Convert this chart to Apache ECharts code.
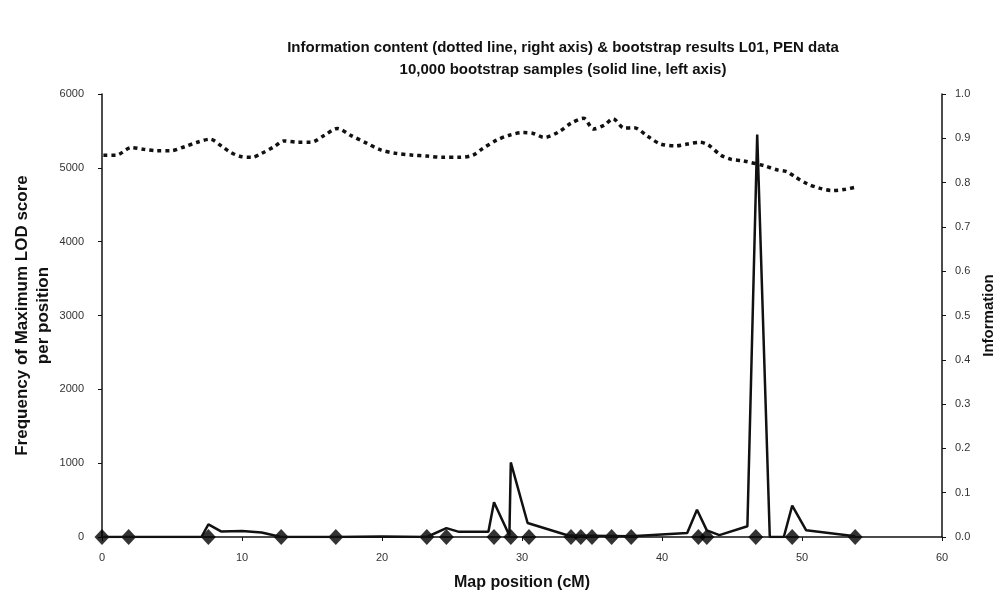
<!DOCTYPE html>
<html>
<head>
<meta charset="utf-8">
<script src="https://cdn.jsdelivr.net/npm/echarts@6/dist/echarts.min.js"></script>
<style>
  html, body { margin: 0; padding: 0; background: #fff; }
  #chart { width: 1006px; height: 593px; }
</style>
</head>
<body>
<div id="chart"></div>
<script>
// bootstrap frequency (solid line, left axis): [cM, count]
const bootstrapPoints = [
  [0, 0], [7.1, 0], [7.6, 170], [8.5, 75], [10, 80], [11.4, 60], [12.8, 0],
  [16.7, 0], [20, 8], [23.2, 0], [24.6, 120], [25.5, 70], [27.6, 70],
  [28.0, 470], [29.1, 20], [29.2, 1010], [30.4, 190], [33.3, 20], [37.8, 10],
  [41.8, 55], [42.5, 370], [43.2, 90], [44.1, 25], [46.1, 145], [46.8, 5450],
  [47.7, 0], [48.7, 0], [49.3, 425], [50.3, 90], [53.8, 10]
];

// marker positions (cM) on the baseline
const markerPositions = [0, 1.9, 7.6, 12.8, 16.7, 23.2, 24.6, 28.0, 29.2, 30.5,
  33.5, 34.2, 35.0, 36.4, 37.8, 42.6, 43.2, 46.7, 49.3, 53.8];

// information content (dotted line, right axis): [cM, info]
const infoPoints = [
  [0.1, 0.862], [1.0, 0.862], [2.1, 0.879], [3.0, 0.875], [3.9, 0.872], [4.9, 0.872],
  [5.9, 0.881], [6.8, 0.891], [7.7, 0.898], [8.6, 0.881], [9.2, 0.868], [9.9, 0.859],
  [10.7, 0.857], [11.4, 0.866], [12.3, 0.881], [13.0, 0.894], [14.0, 0.891], [14.9, 0.891],
  [15.9, 0.907], [16.8, 0.922], [17.8, 0.906], [18.9, 0.889], [19.9, 0.874], [21.0, 0.866],
  [22.2, 0.862], [23.2, 0.860], [24.3, 0.857], [25.5, 0.857], [26.5, 0.862], [27.2, 0.877],
  [28.2, 0.896], [29.1, 0.907], [30.1, 0.913], [30.8, 0.911], [31.6, 0.902], [32.6, 0.914],
  [33.5, 0.934], [34.4, 0.945], [35.1, 0.921], [35.9, 0.930], [36.5, 0.944], [37.3, 0.923],
  [38.0, 0.924], [39.0, 0.904], [39.9, 0.887], [41.0, 0.883], [41.8, 0.887], [42.7, 0.891],
  [43.3, 0.885], [44.2, 0.862], [44.9, 0.853], [45.8, 0.849], [47.3, 0.838], [48.2, 0.829],
  [48.9, 0.825], [49.5, 0.813], [50.4, 0.797], [51.3, 0.787], [52.2, 0.782], [53.1, 0.785],
  [54.0, 0.791]
];

const leftTicks = [0, 1000, 2000, 3000, 4000, 5000, 6000];

const chart = echarts.init(document.getElementById("chart"));
const font = "Liberation Sans, Arial, sans-serif";
const axisLine = { show: true, lineStyle: { color: "#111", width: 1.5 } };

chart.setOption({
  animation: false,
  backgroundColor: "#fff",
  title: {
    text: "Information content (dotted line, right axis) & bootstrap results L01, PEN data\n10,000 bootstrap samples (solid line, left axis)",
    left: 558,
    top: 32,
    textAlign: "center",
    textStyle: { fontFamily: font, fontSize: 15, fontWeight: "bold", color: "#111", lineHeight: 22 }
  },
  grid: { left: 102, right: 64, top: 94, bottom: 56, outerBoundsMode: "none", containLabel: false },
  xAxis: {
    type: "value",
    min: 0,
    max: 60,
    interval: 10,
    name: "Map position (cM)",
    nameLocation: "middle",
    nameGap: 38,
    nameTextStyle: { fontFamily: font, fontSize: 16, fontWeight: "bold", color: "#111" },
    axisLine: axisLine,
    axisTick: { show: true, length: 4, lineStyle: { color: "#111" } },
    axisLabel: { fontFamily: font, fontSize: 11, color: "#333", margin: 15 },
    splitLine: { show: false }
  },
  yAxis: [
    {
      type: "value",
      min: 0,
      max: leftTicks[leftTicks.length - 1],
      interval: 1000,
      name: "Frequency of Maximum LOD score\nper position",
      nameLocation: "middle",
      nameGap: 48,
      nameMoveOverlap: false,
      nameTextStyle: { fontFamily: font, fontSize: 17, fontWeight: "bold", color: "#111", lineHeight: 21 },
      axisLine: axisLine,
      axisTick: { show: true, length: 4, lineStyle: { color: "#111" } },
      axisLabel: { fontFamily: font, fontSize: 11, color: "#333", margin: 18, formatter: v => String(v) },
      splitLine: { show: false }
    },
    {
      type: "value",
      min: 0,
      max: 1,
      interval: 0.1,
      position: "right",
      name: "Information",
      nameLocation: "middle",
      nameGap: 38,
      nameTextStyle: { fontFamily: font, fontSize: 15, fontWeight: "bold", color: "#111" },
      axisLine: axisLine,
      axisTick: { show: true, length: 4, lineStyle: { color: "#111" } },
      axisLabel: { fontFamily: font, fontSize: 11, color: "#333", margin: 13, formatter: v => v.toFixed(1) },
      splitLine: { show: false }
    }
  ],
  series: [
    {
      name: "Information",
      type: "line",
      yAxisIndex: 1,
      data: infoPoints,
      smooth: 0.3,
      showSymbol: false,
      lineStyle: { color: "#111", width: 3.5, type: [4, 4] }
    },
    {
      name: "Bootstrap",
      type: "line",
      yAxisIndex: 0,
      data: bootstrapPoints,
      showSymbol: false,
      lineStyle: { color: "#111", width: 2.5 }
    },
    {
      name: "Markers",
      type: "scatter",
      yAxisIndex: 0,
      data: markerPositions.map(p => [p, 0]),
      symbol: "diamond",
      symbolSize: [15, 16],
      itemStyle: { color: "#000" }
    }
  ]
});
</script>
</body>
</html>
